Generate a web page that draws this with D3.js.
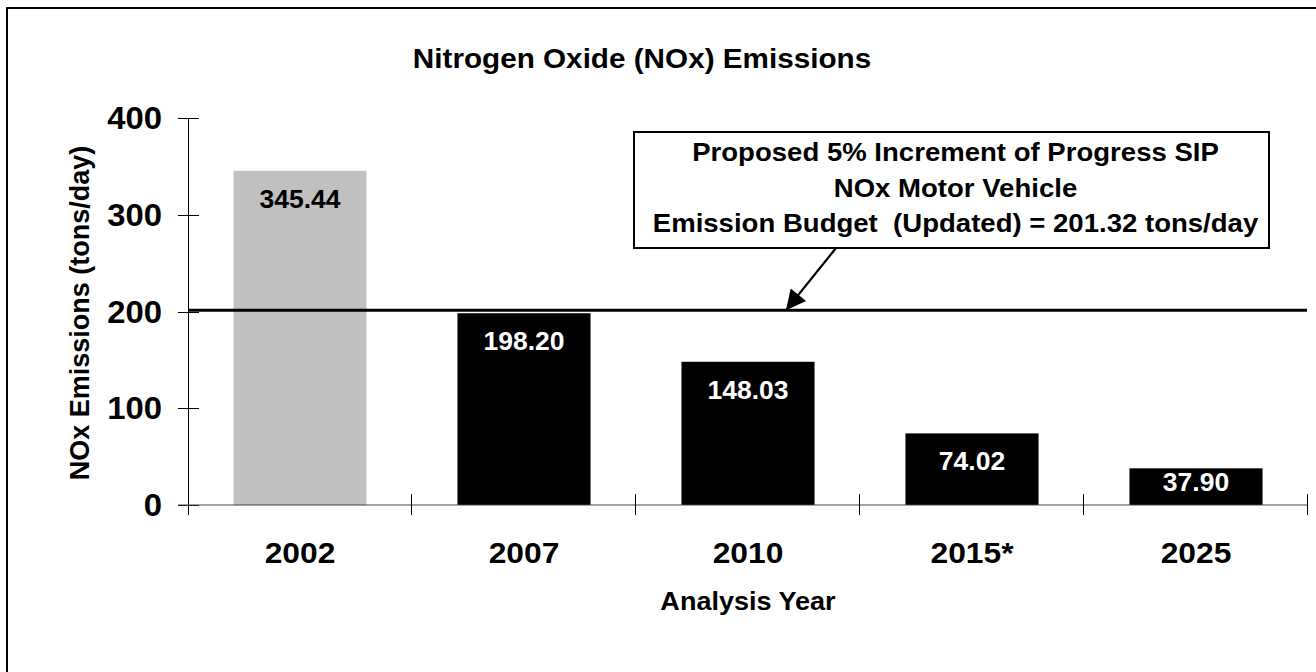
<!DOCTYPE html>
<html>
<head>
<meta charset="utf-8">
<script src="https://cdn.jsdelivr.net/npm/d3@7"></script>
<style>
  html, body { margin: 0; padding: 0; background: #fff; }
  svg { display: block; font-family: "Liberation Sans", Arial, sans-serif; font-weight: bold; }
</style>
</head>
<body>
<div id="chart"></div>
<script>
// NOx emissions by analysis year
const years = ["2002", "2007", "2010", "2015*", "2025"];
const emissions = [345.44, 198.20, 148.03, 74.02, 37.90];
const barColors = ["#c0c0c0", "#000", "#000", "#000", "#000"];
const labelColors = ["#000", "#fff", "#fff", "#fff", "#fff"];
const yTicks = [0, 100, 200, 300, 400];
const budget = 201.32;
const budgetLines = [
  "Proposed 5% Increment of Progress SIP",
  "NOx Motor Vehicle",
  "Emission Budget  (Updated) = 201.32 tons/day"
];

const width = 1316, height = 672;
const plot = { left: 188, right: 1308, top: 118, bottom: 505 };
const stretch = 1.06; // original text is a little wider than it is tall

const svg = d3.select("#chart").append("svg")
  .attr("width", width)
  .attr("height", height);

// text placed at (x, y) and widened a touch
function label(parent, x, y, size, str, anchor = "middle") {
  return parent.append("text")
    .attr("transform", `translate(${x},${y}) scale(${stretch},1)`)
    .attr("text-anchor", anchor)
    .attr("font-size", size)
    .style("white-space", "pre")
    .text(str);
}

// outer frame (runs off the right/bottom edge like the original)
svg.append("rect")
  .attr("x", 7).attr("y", 8)
  .attr("width", 1400).attr("height", 800)
  .attr("fill", "none")
  .attr("stroke", "#000")
  .attr("stroke-width", 2);

const x = d3.scaleBand().domain(years).range([plot.left, plot.right]);
const y = d3.scaleLinear().domain([0, 400]).range([plot.bottom, plot.top]);
const barFrac = 0.594;

// title
label(svg, 642, 68, 28, "Nitrogen Oxide (NOx) Emissions");

// bars
const bars = svg.append("g");
bars.selectAll("rect")
  .data(years)
  .join("rect")
  .attr("x", d => x(d) + x.bandwidth() * (1 - barFrac) / 2)
  .attr("width", x.bandwidth() * barFrac)
  .attr("y", (d, i) => y(emissions[i]))
  .attr("height", (d, i) => y(0) - y(emissions[i]))
  .attr("fill", (d, i) => barColors[i]);

// value labels, inside end of each bar
years.forEach((d, i) => {
  label(bars, x(d) + x.bandwidth() / 2,
        Math.min(y(emissions[i]) + 37, y(0) - 14), 25, emissions[i].toFixed(2))
    .attr("fill", labelColors[i]);
});

// y axis
const yAxis = svg.append("g");
yAxis.append("line")
  .attr("x1", plot.left + 0.5).attr("x2", plot.left + 0.5)
  .attr("y1", y(400)).attr("y2", plot.bottom + 10)
  .attr("stroke", "#000");
yAxis.selectAll("line.tick")
  .data(yTicks)
  .join("line")
  .attr("class", "tick")
  .attr("x1", plot.left - 10).attr("x2", plot.left + 11)
  .attr("y1", d => Math.round(y(d)) + 0.5)
  .attr("y2", d => Math.round(y(d)) + 0.5)
  .attr("stroke", "#000");
yTicks.forEach(d => label(yAxis, 162, y(d) + 11, 31, String(d), "end"));

svg.append("text")
  .attr("transform", "translate(89,313) rotate(-90)")
  .attr("text-anchor", "middle")
  .attr("font-size", 27)
  .text("NOx Emissions (tons/day)");

// x axis
const xAxis = svg.append("g");
xAxis.append("line")
  .attr("x1", plot.left - 10).attr("x2", plot.right)
  .attr("y1", plot.bottom).attr("y2", plot.bottom)
  .attr("stroke", "#444");
const bounds = years.map(d => x(d)).concat([plot.right]);
xAxis.selectAll("line.tick")
  .data(bounds.slice(1))
  .join("line")
  .attr("class", "tick")
  .attr("x1", d => d - 0.5).attr("x2", d => d - 0.5)
  .attr("y1", plot.bottom - 11).attr("y2", plot.bottom + 10)
  .attr("stroke", "#000");
years.forEach(d => label(xAxis, x(d) + x.bandwidth() / 2, 563, 30, d));

label(svg, (plot.left + plot.right) / 2, 610, 25.5, "Analysis Year");

// budget line
svg.append("line")
  .attr("x1", plot.left).attr("x2", plot.right - 1)
  .attr("y1", y(budget)).attr("y2", y(budget))
  .attr("stroke", "#000")
  .attr("stroke-width", 3);

// annotation box + arrow
const box = { x: 634, y: 132, w: 635, h: 116 };
svg.append("rect")
  .attr("x", box.x).attr("y", box.y)
  .attr("width", box.w).attr("height", box.h)
  .attr("fill", "#fff")
  .attr("stroke", "#000")
  .attr("stroke-width", 2);

const boxText = svg.append("g");
budgetLines.forEach((d, i) => {
  label(boxText, box.x + box.w / 2 + 4, [161, 197, 232][i], 26, d);
});

svg.append("defs").append("marker")
  .attr("id", "arrow")
  .attr("viewBox", "0 0 10 10")
  .attr("refX", 10).attr("refY", 5)
  .attr("markerWidth", 11).attr("markerHeight", 9)
  .attr("markerUnits", "strokeWidth")
  .attr("orient", "auto")
  .append("path")
  .attr("d", "M0,0L10,5L0,10Z")
  .attr("fill", "#000");

svg.append("line")
  .attr("x1", 836).attr("y1", box.y + box.h)
  .attr("x2", 786).attr("y2", y(budget))
  .attr("stroke", "#000")
  .attr("stroke-width", 2.2)
  .attr("marker-end", "url(#arrow)");
</script>
</body>
</html>
